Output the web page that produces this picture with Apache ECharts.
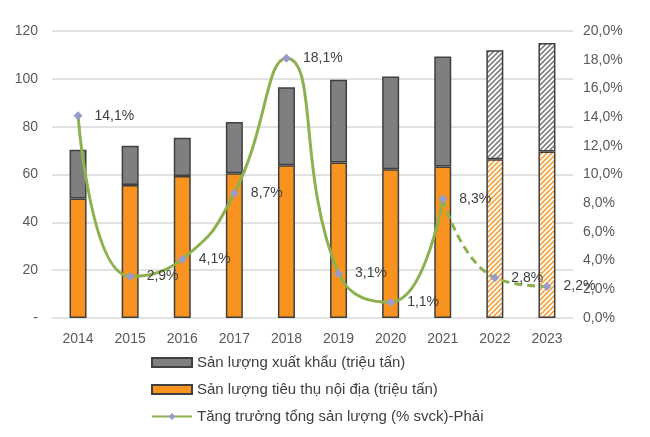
<!DOCTYPE html>
<html><head><meta charset="utf-8">
<script src="https://cdn.jsdelivr.net/npm/echarts@6/dist/echarts.min.js"></script>
<style>html,body{margin:0;padding:0;background:#fff}#c{width:650px;height:437px}</style>
</head><body><div id="c"></div>
<script>
const categories = ['2014','2015','2016','2017','2018','2019','2020','2021','2022','2023'];
const domestic = [50, 55.6, 59.4, 60.5, 63.9, 65, 62.2, 63.3, 66.4, 69.6];
const exportsVol = [20.3, 16.4, 16, 21.5, 32.6, 34.6, 38.8, 46, 45.6, 45.4];
const growth = [14.1, 2.9, 4.1, 8.7, 18.1, 3.1, 1.1, 8.3, 2.8, 2.2];
const firstForecast = 8;
const names = ['Sản lượng xuất khẩu (triệu tấn)', 'Sản lượng tiêu thụ nội địa (triệu tấn)', 'Tăng trưởng tổng sản lượng (% svck)-Phải'];

function hatch(color) {
  const c = document.createElement('canvas');
  c.width = 5; c.height = 5;
  const g = c.getContext('2d');
  g.fillStyle = '#fff'; g.fillRect(0,0,5,5);
  g.strokeStyle = color; g.lineWidth = 1.6;
  g.beginPath();
  g.moveTo(-1,6); g.lineTo(6,-1);
  g.moveTo(-1,1); g.lineTo(1,-1);
  g.moveTo(4,6); g.lineTo(6,4);
  g.stroke();
  return {image: c, repeat: 'repeat'};
}
const grayC = '#7f7f81', orangeC = '#f7931e', borderC = '#404040';
const grayHatch = hatch('#808080'), orangeHatch = hatch('#f6a440');

const domData = domestic.map((v,i) => i >= firstForecast ? {value: v, itemStyle: {color: orangeHatch}} : v);
const expData = exportsVol.map((v,i) => i >= firstForecast ? {value: v, itemStyle: {color: grayHatch}} : v);
const solid = growth.map((v,i) => i < firstForecast ? v : '-');
const dashed = growth.map((v,i) => i >= firstForecast - 1 ? v : '-');
const pct = v => v.toFixed(1).replace('.', ',') + '%';
const font = 'Liberation Sans, Arial, sans-serif';
const lineC = '#8db14f';

const chart = echarts.init(document.getElementById('c'));
chart.setOption({
  animation: false,
  textStyle: {fontFamily: font},
  grid: {left: 52, right: 77, top: 31, bottom: 119},
  legend: {
    orient: 'vertical', left: 146, top: 350, itemGap: 12, itemWidth: 40, itemHeight: 9,
    data: [{name: names[0], icon: 'rect'}, {name: names[1], icon: 'rect'}, names[2]],
    textStyle: {fontSize: 15, color: '#404040', fontFamily: font}
  },
  xAxis: {
    type: 'category', data: categories,
    axisLine: {show: false}, axisTick: {show: false},
    axisLabel: {fontSize: 14, color: '#595959', margin: 14}
  },
  yAxis: [
    {type: 'value', min: 0, max: 120, interval: 20,
     axisLabel: {fontSize: 14, color: '#595959', margin: 14, formatter: v => v === 0 ? '-' : v},
     splitLine: {lineStyle: {color: '#d9d9d9', width: 1.5}}},
    {type: 'value', min: 0, max: 20, interval: 2, position: 'right',
     axisLabel: {fontSize: 14, color: '#595959', margin: 10, formatter: pct},
     splitLine: {show: false}}
  ],
  series: [
    {name: names[1], type: 'bar', stack: 's', barWidth: 17, data: domData,
     itemStyle: {color: orangeC, borderColor: borderC, borderWidth: 1.5}},
    {name: names[0], type: 'bar', stack: 's', barWidth: 17, data: expData,
     itemStyle: {color: grayC, borderColor: borderC, borderWidth: 1.5}},
    {name: names[2], type: 'line', yAxisIndex: 1, data: solid, smooth: 0.5,
     symbol: 'diamond', symbolSize: 9, z: 5,
     lineStyle: {color: lineC, width: 3}, itemStyle: {color: '#9b9bc9'},
     label: {show: true, position: 'right', distance: 12, formatter: p => pct(p.value), fontSize: 14, color: '#404040', fontFamily: font}},
    {name: 'forecast', type: 'line', yAxisIndex: 1, data: dashed, smooth: 0.5,
     symbol: 'diamond', symbolSize: 9, z: 5,
     lineStyle: {color: lineC, width: 3, type: [8, 5]}, itemStyle: {color: '#9b9bc9'},
     label: {show: true, position: 'right', distance: 12, formatter: p => p.dataIndex >= firstForecast ? pct(p.value) : '', fontSize: 14, color: '#404040', fontFamily: font}}
  ]
});
</script></body></html>
